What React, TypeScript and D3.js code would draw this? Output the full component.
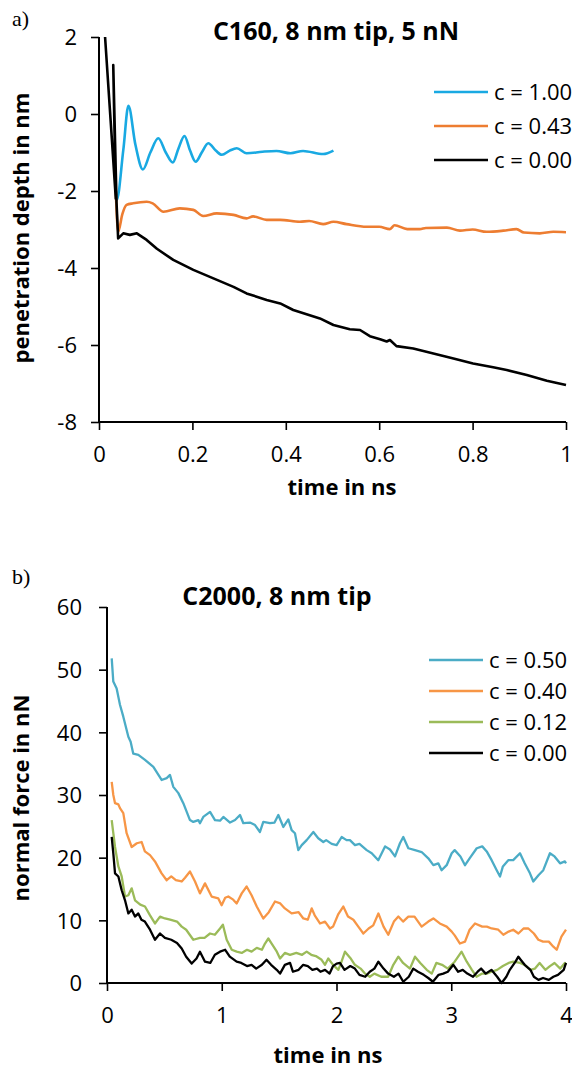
import { useRef, useEffect } from 'react';
import * as d3 from 'd3';

const W = 572;
const H = 1070;
const FONT = "'Open Sans', sans-serif";

// panel a: penetration depth (nm) vs time (ns)
const aLabels = ['c = 1.00', 'c = 0.43', 'c = 0.00'];
const aColors = ['#19a9e2', '#ed7d31', '#000000'];
const aXTicks = [0, 0.2, 0.4, 0.6, 0.8, 1];
const aYTicks = [2, 0, -2, -4, -6, -8];

const aBlue = [
  [0.034, -1.5], [0.038, -2.23], [0.052, -0.94], [0.063, 0.21], [0.078, -0.8], [0.094, -1.44],
  [0.110, -1.0], [0.127, -0.63], [0.143, -1.0], [0.158, -1.26], [0.170, -0.9], [0.183, -0.57],
  [0.195, -0.95], [0.207, -1.24], [0.220, -1.0], [0.234, -0.76], [0.250, -0.95], [0.263, -1.06],
  [0.280, -0.95], [0.295, -0.89], [0.316, -1.02], [0.350, -0.98], [0.380, -0.96], [0.410, -1.02],
  [0.437, -0.96], [0.480, -1.04], [0.502, -0.95],
];
const aOrange = [
  [0.036, -2.0], [0.041, -3.06], [0.050, -2.6], [0.059, -2.36], [0.073, -2.32], [0.102, -2.28],
  [0.115, -2.32], [0.138, -2.54], [0.173, -2.45], [0.202, -2.49], [0.223, -2.65], [0.252, -2.58],
  [0.288, -2.62], [0.316, -2.71], [0.330, -2.66], [0.359, -2.75], [0.388, -2.75], [0.430, -2.80],
  [0.450, -2.78], [0.480, -2.86], [0.502, -2.80], [0.530, -2.86], [0.573, -2.93], [0.600, -2.93],
  [0.623, -2.99], [0.633, -2.89], [0.660, -2.99], [0.687, -2.99], [0.700, -2.96], [0.745, -2.95],
  [0.773, -3.03], [0.800, -3.00], [0.830, -3.06], [0.866, -3.03], [0.894, -2.99], [0.910, -3.08],
  [0.944, -3.10], [0.973, -3.06], [1.0, -3.07],
];
// the c = 0.00 run starts with two overlapping approach segments
const aBlack = [
  [0.013, 2.0], [0.036, -2.2], [0.0305, 1.27], [0.0375, -2.3], [0.041, -3.23], [0.052, -3.10],
  [0.066, -3.14], [0.081, -3.10], [0.102, -3.27], [0.124, -3.50], [0.159, -3.79], [0.202, -4.05],
  [0.245, -4.27], [0.288, -4.49], [0.316, -4.66], [0.359, -4.83], [0.388, -4.92], [0.416, -5.09],
  [0.473, -5.31], [0.502, -5.48], [0.537, -5.59], [0.559, -5.61], [0.580, -5.77], [0.602, -5.85],
  [0.616, -5.91], [0.623, -5.87], [0.637, -6.03], [0.673, -6.09], [0.716, -6.22], [0.759, -6.35],
  [0.801, -6.48], [0.844, -6.58], [0.873, -6.65], [0.916, -6.78], [0.959, -6.93], [1.0, -7.04],
];

// panel b: normal force (nN) vs time (ns)
const bLabels = ['c = 0.50', 'c = 0.40', 'c = 0.12', 'c = 0.00'];
const bColors = ['#4bacc6', '#f79646', '#9bbb59', '#000000'];
const bXTicks = [0, 1, 2, 3, 4];
const bYTicks = [0, 10, 20, 30, 40, 50, 60];

const bBlue = [
  [0.041, 51.8], [0.055, 48.1], [0.084, 47.0], [0.113, 44.4], [0.142, 42.5], [0.186, 39.3],
  [0.206, 38.5], [0.229, 36.6], [0.273, 36.4], [0.302, 36.0], [0.331, 35.6], [0.404, 34.5],
  [0.476, 32.4], [0.520, 32.7], [0.549, 33.2], [0.578, 31.3], [0.622, 30.3], [0.665, 28.7],
  [0.723, 26.0], [0.752, 25.7], [0.796, 26.0], [0.810, 25.5], [0.839, 26.5], [0.898, 27.3],
  [0.941, 26.0], [0.985, 25.9], [1.014, 26.5], [1.072, 25.6], [1.116, 26.0], [1.159, 26.8],
  [1.188, 25.5], [1.246, 25.6], [1.290, 25.2], [1.333, 24.1], [1.362, 25.7], [1.420, 25.5],
  [1.460, 25.6], [1.493, 26.8], [1.537, 24.9], [1.580, 26.1], [1.609, 24.4], [1.638, 23.9],
  [1.667, 21.2], [1.697, 22.0], [1.740, 22.8], [1.798, 24.1], [1.841, 23.1], [1.885, 22.5],
  [1.910, 22.8], [1.958, 22.2], [2.001, 22.0], [2.045, 23.3], [2.088, 22.8], [2.117, 22.8],
  [2.161, 22.0], [2.200, 22.2], [2.263, 21.2], [2.307, 20.7], [2.364, 19.6], [2.423, 21.8],
  [2.466, 21.3], [2.510, 20.2], [2.553, 22.3], [2.582, 23.3], [2.626, 21.5], [2.684, 21.2],
  [2.742, 20.9], [2.800, 19.9], [2.844, 18.8], [2.887, 19.1], [2.916, 18.0], [2.960, 18.8],
  [3.004, 20.7], [3.030, 21.2], [3.080, 20.2], [3.120, 18.8], [3.160, 19.9], [3.222, 21.5],
  [3.270, 21.8], [3.309, 21.0], [3.352, 19.6], [3.396, 18.0], [3.425, 17.0], [3.450, 18.6],
  [3.497, 19.6], [3.540, 19.6], [3.599, 20.7], [3.640, 19.1], [3.686, 17.5], [3.715, 16.2],
  [3.760, 17.2], [3.802, 18.0], [3.860, 20.7], [3.900, 20.2], [3.948, 19.1], [3.990, 19.4],
  [4.0, 19.1],
];
const bOrange = [
  [0.041, 32.1], [0.055, 30.0], [0.070, 28.7], [0.099, 28.5], [0.113, 27.9], [0.142, 27.1],
  [0.171, 23.9], [0.215, 21.7], [0.260, 22.3], [0.302, 22.5], [0.330, 21.0], [0.375, 20.4],
  [0.418, 19.4], [0.476, 17.5], [0.520, 16.4], [0.560, 17.0], [0.600, 16.4], [0.651, 16.2],
  [0.680, 16.8], [0.723, 17.8], [0.767, 16.2], [0.810, 14.3], [0.854, 15.9], [0.912, 13.8],
  [0.970, 13.5], [0.999, 12.4], [1.030, 13.6], [1.057, 13.8], [1.100, 13.3], [1.130, 12.7],
  [1.174, 14.3], [1.217, 15.4], [1.260, 14.0], [1.305, 12.2], [1.362, 10.3], [1.410, 11.3],
  [1.464, 13.0], [1.510, 12.7], [1.550, 11.9], [1.609, 11.1], [1.670, 11.3], [1.711, 10.3],
  [1.750, 10.1], [1.784, 11.9], [1.810, 10.8], [1.856, 9.5], [1.900, 9.8], [1.943, 8.7],
  [1.970, 9.0], [2.016, 11.0], [2.059, 12.2], [2.100, 10.6], [2.147, 10.1], [2.190, 9.0],
  [2.234, 7.9], [2.280, 8.7], [2.320, 9.2], [2.365, 11.1], [2.410, 9.0], [2.451, 7.7],
  [2.500, 9.8], [2.539, 10.6], [2.580, 9.8], [2.626, 10.6], [2.680, 10.6], [2.742, 9.0],
  [2.800, 9.8], [2.844, 10.3], [2.900, 9.5], [2.960, 9.0], [3.004, 8.2], [3.030, 7.6],
  [3.076, 6.3], [3.120, 6.6], [3.160, 8.5], [3.207, 9.5], [3.270, 9.0], [3.310, 9.0],
  [3.352, 8.7], [3.410, 8.5], [3.454, 7.7], [3.500, 8.2], [3.540, 8.5], [3.585, 7.9],
  [3.630, 8.7], [3.672, 8.7], [3.720, 7.9], [3.759, 6.9], [3.800, 6.6], [3.850, 6.6],
  [3.890, 5.8], [3.919, 5.3], [3.960, 7.4], [4.0, 8.5],
];
const bGreen = [
  [0.041, 26.0], [0.055, 23.9], [0.070, 21.7], [0.099, 18.6], [0.128, 17.0], [0.157, 13.8],
  [0.186, 14.0], [0.215, 15.1], [0.244, 13.2], [0.290, 12.5], [0.331, 12.2], [0.375, 10.8],
  [0.418, 9.5], [0.462, 10.6], [0.505, 10.3], [0.550, 10.1], [0.610, 9.8], [0.651, 9.0],
  [0.690, 8.5], [0.752, 6.9], [0.810, 7.2], [0.850, 7.2], [0.898, 7.9], [0.940, 7.7],
  [0.985, 8.7], [1.010, 9.3], [1.043, 6.9], [1.087, 5.3], [1.130, 5.0], [1.174, 4.8],
  [1.220, 5.3], [1.260, 5.0], [1.305, 5.6], [1.350, 5.3], [1.377, 6.3], [1.406, 7.1],
  [1.435, 6.3], [1.480, 5.0], [1.508, 3.9], [1.550, 4.8], [1.595, 4.5], [1.650, 4.8],
  [1.700, 4.5], [1.740, 5.0], [1.780, 4.5], [1.820, 4.3], [1.870, 3.7], [1.900, 2.9],
  [1.928, 3.9], [1.970, 2.9], [2.016, 2.1], [2.040, 3.2], [2.074, 5.0], [2.120, 4.0],
  [2.160, 2.9], [2.210, 2.3], [2.248, 1.5], [2.290, 1.0], [2.330, 1.5], [2.390, 1.0],
  [2.450, 1.0], [2.495, 2.9], [2.539, 4.2], [2.580, 3.2], [2.640, 2.3], [2.684, 4.2],
  [2.730, 3.2], [2.786, 2.1], [2.830, 1.5], [2.870, 3.2], [2.920, 2.9], [2.970, 2.3],
  [3.030, 3.4], [3.090, 5.0], [3.135, 3.4], [3.180, 2.1], [3.220, 1.0], [3.270, 1.5],
  [3.310, 1.5], [3.350, 1.8], [3.400, 2.1], [3.450, 2.7], [3.500, 3.2], [3.541, 3.4],
  [3.600, 3.2], [3.640, 2.9], [3.690, 2.1], [3.730, 2.3], [3.770, 3.2], [3.820, 2.1],
  [3.860, 2.7], [3.900, 3.2], [3.950, 2.3], [3.990, 3.2], [4.0, 2.9],
];
const bBlack = [
  [0.041, 23.3], [0.055, 20.7], [0.070, 17.5], [0.099, 17.0], [0.128, 14.8], [0.157, 13.2],
  [0.186, 11.1], [0.215, 11.7], [0.244, 10.6], [0.273, 11.1], [0.300, 10.1], [0.330, 9.8],
  [0.375, 8.5], [0.418, 6.9], [0.462, 7.9], [0.505, 7.2], [0.560, 6.9], [0.610, 6.4],
  [0.651, 5.5], [0.690, 4.2], [0.738, 3.1], [0.780, 3.9], [0.810, 5.0], [0.854, 3.4],
  [0.900, 3.2], [0.940, 4.5], [0.985, 5.0], [1.030, 5.3], [1.070, 4.2], [1.130, 3.4],
  [1.170, 3.2], [1.220, 2.7], [1.260, 2.9], [1.300, 2.3], [1.350, 2.9], [1.390, 3.7],
  [1.430, 2.9], [1.479, 2.1], [1.508, 1.5], [1.550, 2.9], [1.595, 3.2], [1.620, 1.8],
  [1.670, 2.1], [1.710, 2.9], [1.750, 2.7], [1.790, 2.1], [1.830, 2.3], [1.860, 1.8],
  [1.900, 2.1], [1.940, 1.5], [1.970, 2.7], [2.001, 3.1], [2.030, 3.2], [2.070, 2.1],
  [2.120, 2.7], [2.160, 2.3], [2.200, 1.3], [2.250, 1.0], [2.290, 1.8], [2.330, 2.3],
  [2.365, 3.4], [2.410, 2.3], [2.450, 1.5], [2.500, 1.0], [2.540, 1.5], [2.582, 0.2],
  [2.630, 1.0], [2.669, 2.3], [2.710, 1.8], [2.760, 1.3], [2.800, 0.8], [2.840, 0.2],
  [2.890, 1.3], [2.930, 1.5], [2.970, 1.8], [3.018, 2.9], [3.060, 1.8], [3.100, 2.1],
  [3.140, 1.5], [3.190, 1.0], [3.230, 1.8], [3.260, 2.3], [3.300, 1.5], [3.350, 2.1],
  [3.400, 1.0], [3.439, 0.0], [3.480, 1.0], [3.510, 2.1], [3.560, 3.4], [3.585, 4.2],
  [3.610, 3.6], [3.640, 2.9], [3.690, 2.1], [3.720, 1.0], [3.760, 0.5], [3.800, 0.8],
  [3.850, 0.5], [3.890, 1.0], [3.930, 1.3], [3.980, 2.1], [4.0, 3.2],
];

function drawPanel(svg, cfg) {
  const g = svg.append('g');
  const x = d3.scaleLinear().domain(cfg.xDomain).range([cfg.left, cfg.right]);
  const y = d3.scaleLinear().domain(cfg.yDomain).range([cfg.bottom, cfg.top]);

  // series (last one on top)
  cfg.series.forEach((s, i) => {
    const line = d3.line()
      .x((d) => x(d[0]))
      .y((d) => y(d[1]))
      .curve(cfg.curves ? cfg.curves[i] : d3.curveLinear);
    g.append('path')
      .attr('d', line(s))
      .attr('fill', 'none')
      .attr('stroke', cfg.colors[i])
      .attr('stroke-width', cfg.lineWidth)
      .attr('stroke-linejoin', 'round');
  });

  // axes
  const yAxis = d3.axisLeft(y).tickValues(cfg.yTicks).tickSize(8).tickFormat((d) => String(d));
  const xAxis = d3.axisBottom(x).tickValues(cfg.xTicks).tickSize(8).tickFormat((d) => String(d));
  const ya = g.append('g').attr('transform', `translate(${cfg.left},0)`).call(yAxis);
  const xa = g.append('g').attr('transform', `translate(0,${cfg.bottom})`).call(xAxis);
  [ya, xa].forEach((a) => {
    a.select('.domain').attr('stroke', '#000').attr('stroke-width', 2);
    a.selectAll('.tick line').attr('stroke', '#000').attr('stroke-width', 1.6);
    a.selectAll('.tick text')
      .attr('font-family', FONT)
      .attr('font-size', 22)
      .attr('fill', '#000');
  });
  ya.select('.domain').attr('d', `M0,${cfg.top}V${cfg.bottom}`);
  xa.select('.domain').attr('d', `M${cfg.left},0H${cfg.right}`);
  ya.selectAll('.tick text').attr('x', cfg.yLabelGap).attr('dy', '0.36em');
  xa.selectAll('.tick text').attr('y', 40).attr('dy', null);

  // titles
  g.append('text')
    .attr('x', cfg.titleX).attr('y', cfg.titleY)
    .attr('text-anchor', 'middle')
    .attr('font-family', FONT).attr('font-weight', 'bold').attr('font-size', 25)
    .text(cfg.title);
  g.append('text')
    .attr('x', cfg.xTitleX).attr('y', cfg.xTitleY)
    .attr('text-anchor', 'middle')
    .attr('font-family', FONT).attr('font-weight', 'bold').attr('font-size', 22)
    .text('time in ns');
  g.append('text')
    .attr('transform', `translate(29,${cfg.yTitleY}) rotate(-90)`)
    .attr('text-anchor', 'middle')
    .attr('font-family', FONT).attr('font-weight', 'bold').attr('font-size', 22)
    .text(cfg.yTitle);
  g.append('text')
    .attr('x', 12).attr('y', cfg.tagY)
    .attr('font-family', "'Liberation Serif', serif").attr('font-size', 22)
    .text(cfg.tag);

  // legend
  const lg = g.append('g');
  cfg.labels.forEach((lab, i) => {
    const ly = cfg.legendY + i * cfg.legendStep;
    lg.append('line')
      .attr('x1', cfg.legendX).attr('x2', cfg.legendX + 54)
      .attr('y1', ly).attr('y2', ly)
      .attr('stroke', cfg.colors[i]).attr('stroke-width', cfg.lineWidth);
    lg.append('text')
      .attr('x', cfg.legendX + 60).attr('y', ly)
      .attr('dy', '0.36em')
      .attr('font-family', FONT).attr('font-size', 22)
      .text(lab);
  });
}

export default function App() {
  const svgRef = useRef(null);

  useEffect(() => {
    const svg = d3.select(svgRef.current);
    svg.selectAll('*').remove();

    drawPanel(svg, {
      tag: 'a)', tagY: 26,
      title: 'C160, 8 nm tip, 5 nN', titleX: 336, titleY: 40,
      yTitle: 'penetration depth in nm', yTitleY: 228,
      xTitleX: 342, xTitleY: 495,
      left: 99, right: 566, top: 37, bottom: 422,
      xDomain: [0, 1], yDomain: [-8, 2],
      xTicks: aXTicks, yTicks: aYTicks, yLabelGap: -22,
      series: [aBlue, aOrange, aBlack],
      curves: [d3.curveMonotoneX, d3.curveMonotoneX, d3.curveLinear],
      colors: aColors, labels: aLabels, lineWidth: 2.6,
      legendX: 434, legendY: 92, legendStep: 34,
    });

    drawPanel(svg, {
      tag: 'b)', tagY: 584,
      title: 'C2000, 8 nm tip', titleX: 277, titleY: 605,
      yTitle: 'normal force in nN', yTitleY: 798,
      xTitleX: 328, xTitleY: 1063,
      left: 107, right: 566, top: 607, bottom: 983,
      xDomain: [0, 4], yDomain: [0, 60],
      xTicks: bXTicks, yTicks: bYTicks, yLabelGap: -25,
      series: [bBlue, bOrange, bGreen, bBlack],
      colors: bColors, labels: bLabels, lineWidth: 2.3,
      legendX: 429, legendY: 660, legendStep: 31,
    });
  }, []);

  return (
    <div style={{ position: 'absolute', left: 0, top: 0 }}>
      <svg ref={svgRef} width={W} height={H} style={{ display: 'block', background: '#fff' }} />
    </div>
  );
}
